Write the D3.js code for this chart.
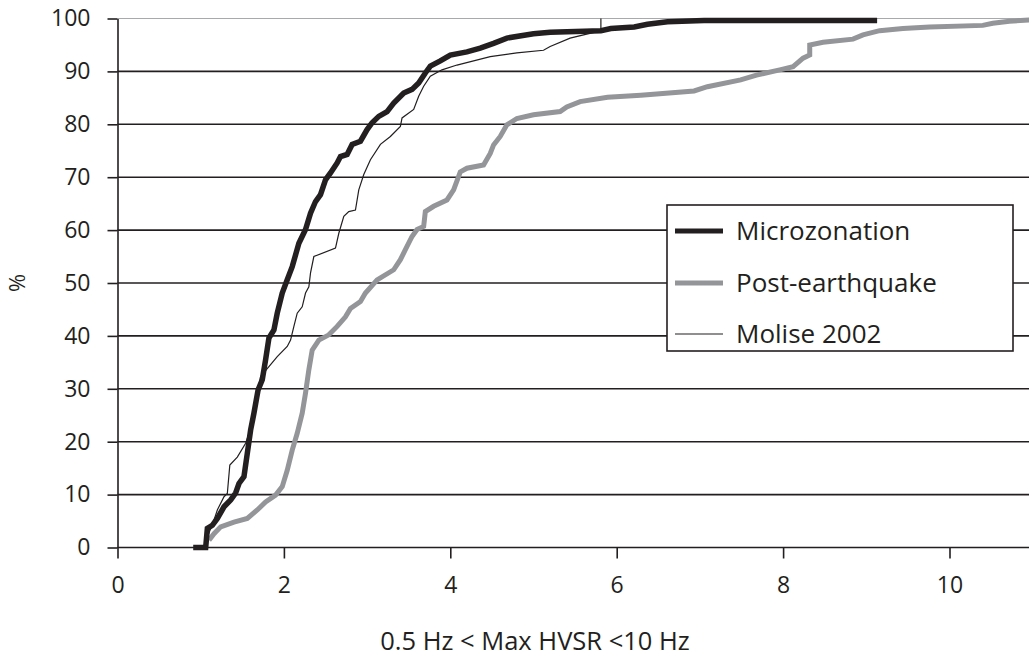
<!DOCTYPE html>
<html>
  <head>
    <meta charset="utf-8" />
    <script src="https://d3js.org/d3.v7.min.js"></script>
    <style>
      body { margin: 0; background: #fff; }
      text { font-family: "Open Sans", sans-serif; fill: #231f20; }
    </style>
  </head>
  <body>
    <div id="chart"></div>
    <script>
      // ticks
      var xTicks = [0, 2, 4, 6, 8, 10];
      var yTicks = [0, 10, 20, 30, 40, 50, 60, 70, 80, 90, 100];

      // Microzonation (thick black)
      var microFreq = [0.91, 1.06, 1.08, 1.14, 1.2, 1.28, 1.36, 1.42, 1.46, 1.52, 1.56, 1.6, 1.64, 1.69, 1.74, 1.78, 1.82, 1.88, 1.92, 1.98, 2.04, 2.1, 2.18, 2.26, 2.32, 2.38, 2.44, 2.5, 2.56, 2.64, 2.68, 2.76, 2.82, 2.92, 3.0, 3.06, 3.14, 3.24, 3.32, 3.44, 3.54, 3.62, 3.7, 3.76, 3.88, 4.0, 4.2, 4.36, 4.52, 4.68, 5.0, 5.2, 5.81, 5.93, 6.21, 6.37, 6.61, 7.05, 9.13];
      var microPct = [0, 0, 3.6, 4.2, 5.5, 7.7, 9, 10.3, 12.1, 13.4, 17.8, 22.2, 25.4, 29.8, 31.7, 35.5, 39.6, 41.1, 44.3, 48.1, 50.6, 53.1, 57.5, 60.1, 63.2, 65.4, 66.7, 69.5, 70.8, 72.7, 73.9, 74.3, 76.2, 76.8, 79.0, 80.3, 81.5, 82.4, 84.0, 85.9, 86.6, 87.8, 89.7, 91.0, 92.0, 93.1, 93.7, 94.4, 95.3, 96.3, 97.1, 97.4, 97.7, 98.1, 98.4, 98.9, 99.4, 99.6, 99.6];

      // Post-earthquake (thick grey)
      var postFreq = [1.1, 1.16, 1.24, 1.4, 1.56, 1.68, 1.78, 1.9, 1.98, 2.04, 2.1, 2.16, 2.22, 2.26, 2.3, 2.34, 2.42, 2.54, 2.64, 2.74, 2.8, 2.92, 2.98, 3.12, 3.32, 3.4, 3.46, 3.54, 3.6, 3.68, 3.7, 3.8, 3.96, 4.04, 4.12, 4.2, 4.4, 4.48, 4.52, 4.6, 4.68, 4.8, 5.0, 5.32, 5.4, 5.56, 5.89, 6.29, 6.93, 7.09, 7.49, 7.68, 7.96, 8.12, 8.24, 8.32, 8.32, 8.48, 8.84, 8.96, 9.16, 9.44, 9.76, 10.4, 10.52, 10.72, 10.96];
      var postPct = [1.4, 2.6, 3.9, 4.8, 5.5, 7.1, 8.6, 9.9, 11.5, 14.6, 18.4, 21.6, 25.4, 29.2, 33.6, 37.3, 39.2, 40.2, 41.8, 43.6, 45.2, 46.5, 48.1, 50.6, 52.5, 54.4, 56.3, 58.8, 60.1, 60.7, 63.5, 64.5, 65.7, 67.6, 71.0, 71.7, 72.3, 74.5, 76.1, 77.7, 79.9, 81.1, 81.8, 82.4, 83.3, 84.3, 85.1, 85.5, 86.3, 87.1, 88.4, 89.3, 90.3, 90.9, 92.5, 93.1, 95.0, 95.5, 96.1, 96.9, 97.7, 98.1, 98.4, 98.7, 99.1, 99.5, 99.7];

      // Molise 2002 (thin black)
      var moliseFreq = [1.08, 1.16, 1.2, 1.28, 1.32, 1.35, 1.44, 1.54, 1.62, 1.66, 1.72, 1.82, 1.92, 2.04, 2.08, 2.12, 2.16, 2.22, 2.26, 2.3, 2.32, 2.36, 2.62, 2.66, 2.72, 2.78, 2.86, 2.9, 2.96, 3.04, 3.16, 3.28, 3.4, 3.42, 3.56, 3.62, 3.68, 3.76, 3.9, 4.08, 4.48, 4.8, 5.12, 5.2, 5.44, 5.81, 5.81];
      var molisePct = [2, 5.2, 7.1, 9.6, 10.2, 15.6, 17.1, 19.7, 23.5, 27, 32.3, 34.2, 36.1, 38.0, 39.2, 41.8, 44.3, 45.5, 48.1, 49.3, 51.9, 55.0, 56.6, 59.4, 62.6, 63.5, 63.8, 67.6, 70.5, 73.3, 76.2, 77.7, 79.6, 81.2, 82.8, 85.3, 87.2, 89.1, 90.3, 91.2, 92.8, 93.5, 94.0, 94.7, 96.3, 97.7, 100];

      var seriesNames = ["Microzonation", "Post-earthquake", "Molise 2002"];

      var width = 1029,
        height = 656;

      var svg = d3
        .select("#chart")
        .append("svg")
        .attr("width", width)
        .attr("height", height)
        .style("overflow", "hidden");

      var x = d3.scaleLinear().domain([0, 11]).range([117.5, 117.5 + 83.2 * 11]);
      var y = d3.scaleLinear().domain([0, 100]).range([547.5, 18.5]);

      // horizontal grid
      svg
        .append("g")
        .selectAll("line")
        .data(yTicks)
        .enter()
        .append("line")
        .attr("x1", x(0))
        .attr("x2", width)
        .attr("y1", function (d) { return y(d); })
        .attr("y2", function (d) { return y(d); })
        .attr("stroke", function (d) { return d == 100 ? "#a7a9ac" : "#231f20"; })
        .attr("stroke-width", function (d) { return d == 100 ? 1.2 : 1.6; });

      // y axis
      var yAxis = svg
        .append("g")
        .attr("transform", "translate(" + x(0) + ",0)")
        .call(d3.axisLeft(y).tickValues(yTicks).tickSize(10).tickPadding(17).tickSizeOuter(0));
      yAxis.select(".domain").attr("stroke", "#231f20").attr("stroke-width", 1.6);
      yAxis.selectAll(".tick line").attr("stroke", "#231f20").attr("stroke-width", 1.6);
      yAxis.selectAll(".tick text")
        .style("font-family", "Open Sans")
        .style("font-size", "23px")
        .attr("fill", "#231f20");

      // x axis
      var xAxis = svg
        .append("g")
        .attr("transform", "translate(0," + y(0) + ")")
        .call(d3.axisBottom(x).tickValues(xTicks).tickSize(11).tickSizeOuter(0));
      xAxis.select(".domain").remove();
      xAxis.selectAll(".tick line").attr("stroke", "#231f20").attr("stroke-width", 1.6);
      xAxis.selectAll(".tick text")
        .attr("y", 45.5)
        .attr("dy", null)
        .style("font-family", "Open Sans")
        .style("font-size", "23px")
        .attr("fill", "#231f20");

      // lines
      function makeData(fx, fy) {
        return fx.map(function (v, i) { return [v, fy[i]]; });
      }
      var line = d3
        .line()
        .x(function (d) { return x(d[0]); })
        .y(function (d) { return y(d[1]); });

      var series = [
        { data: makeData(postFreq, postPct), color: "#939598", w: 5 },
        { data: makeData(microFreq, microPct), color: "#231f20", w: 5.5 },
        { data: makeData(moliseFreq, molisePct), color: "#231f20", w: 1.2 }
      ];

      svg
        .append("g")
        .selectAll("path")
        .data(series)
        .enter()
        .append("path")
        .attr("d", function (d) { return line(d.data); })
        .attr("fill", "none")
        .attr("stroke", function (d) { return d.color; })
        .attr("stroke-width", function (d) { return d.w; })
        .attr("stroke-linejoin", "miter");

      // legend
      var legend = svg.append("g");
      legend
        .append("rect")
        .attr("x", 667)
        .attr("y", 205)
        .attr("width", 346)
        .attr("height", 146)
        .attr("fill", "#fff")
        .attr("stroke", "#231f20")
        .attr("stroke-width", 1.6);

      var legendItems = [
        { name: seriesNames[0], color: "#231f20", w: 5 },
        { name: seriesNames[1], color: "#939598", w: 5 },
        { name: seriesNames[2], color: "#231f20", w: 1.2 }
      ];
      var rowY = [231, 283, 334];

      var item = legend
        .selectAll("g.item")
        .data(legendItems)
        .enter()
        .append("g")
        .attr("transform", function (d, i) { return "translate(0," + rowY[i] + ")"; });
      item
        .append("line")
        .attr("x1", 675)
        .attr("x2", 723)
        .attr("stroke", function (d) { return d.color; })
        .attr("stroke-width", function (d) { return d.w; });
      item
        .append("text")
        .attr("x", 736)
        .attr("dy", "0.35em")
        .style("font-size", "26px")
        .text(function (d) { return d.name; });

      // axis titles
      svg
        .append("text")
        .attr("x", 535)
        .attr("y", 650)
        .attr("text-anchor", "middle")
        .style("font-size", "25.5px")
        .text("0.5 Hz < Max HVSR <10 Hz");

      svg
        .append("text")
        .attr("transform", "translate(25,283) rotate(-90)")
        .attr("text-anchor", "middle")
        .style("font-size", "22px")
        .text("%");
    </script>
  </body>
</html>
